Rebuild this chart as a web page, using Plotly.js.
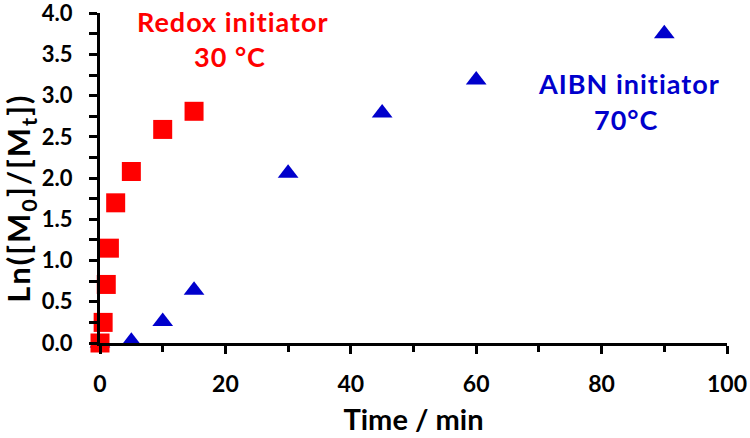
<!DOCTYPE html>
<html>
<head>
<meta charset="utf-8">
<script src="https://cdn.plot.ly/plotly-3.0.1.min.js"></script>
<style>html,body{margin:0;padding:0;background:#fff;}#chart{width:750px;height:438px;}</style>
</head>
<body>
<div id="chart"></div>
<script>
// Data
var redoxTime = [0, 0.5, 1, 1.5, 2.5, 5, 10, 15];
var redoxLn   = [0, 0.25, 0.71, 1.15, 1.70, 2.08, 2.59, 2.81];
var aibnTime  = [0, 5, 10, 15, 30, 45, 60, 90];
var aibnLn    = [0, 0.02, 0.26, 0.64, 2.06, 2.79, 3.19, 3.75];
var xTicks = [0, 20, 40, 60, 80, 100];
var yTicks = [0, 0.5, 1, 1.5, 2, 2.5, 3, 3.5, 4];
var labelRedox = ['Redox initiator', '30 °C'];
var labelAibn  = ['AIBN initiator', '70°C'];
var xTitle = 'Time / min';
var yTitle = 'Ln([M<sub>0</sub>]/[M<sub>t</sub>])';

var FONT = 'Lato, "Open Sans", sans-serif';
var RED = '#FF0000', BLUE = '#0000CC';

var traces = [
  {x: aibnTime, y: aibnLn, type: 'scatter', mode: 'markers', cliponaxis: false,
   marker: {symbol: 'triangle-up', size: 18, color: BLUE}},
  {x: redoxTime, y: redoxLn, type: 'scatter', mode: 'markers', cliponaxis: false,
   marker: {symbol: 'square', size: 19, color: RED}}
];

function spaced(t, px) { return '<span style="letter-spacing:' + px + 'px">' + t + '</span>'; }

function ann(text, x, y, color, size, angle) {
  return {text: text, x: x, y: y, xref: 'paper', yref: 'paper', showarrow: false,
          xanchor: 'center', yanchor: 'middle', textangle: angle || 0,
          font: {family: FONT, size: size, color: color, weight: 'bold'}};
}

var layout = {
  width: 750, height: 438,
  margin: {l: 100, r: 23, t: 13, b: 95, pad: 0},
  paper_bgcolor: '#fff', plot_bgcolor: '#fff',
  showlegend: false,
  font: {family: FONT, color: '#000'},
  xaxis: {
    range: [0, 100], tickvals: xTicks, ticktext: xTicks.map(String),
    showgrid: false, zeroline: false, showline: true, linecolor: '#000', linewidth: 3,
    ticks: 'outside', ticklen: 8, tickwidth: 3, tickcolor: '#000',
    minor: {dtick: 10, ticks: 'outside', ticklen: 6, tickwidth: 3, tickcolor: '#000', showgrid: false},
    ticklabelstandoff: 10,
    tickfont: {family: FONT, size: 23, color: '#000', weight: 'bold'},
    title: {text: xTitle, standoff: 15, font: {family: FONT, size: 29, color: '#000', weight: 'bold'}}
  },
  yaxis: {
    range: [0, 4.002], tickvals: yTicks, ticktext: yTicks.map(function(v){return v.toFixed(1);}),
    showgrid: false, zeroline: false, showline: true, linecolor: '#000', linewidth: 3,
    ticks: 'outside', ticklen: 8, tickwidth: 3, tickcolor: '#000',
    minor: {tickvals: [0.25, 0.75, 1.25, 1.75, 2.25, 2.75, 3.25, 3.75], ticks: 'outside', ticklen: 8, tickwidth: 3, tickcolor: '#000', showgrid: false},
    ticklabelstandoff: 12,
    ticklabeloverflow: 'allow',
    tickfont: {family: FONT, size: 22, color: '#000', weight: 'bold'}
  },
  annotations: [
    ann(spaced(labelRedox[0], 1), 0.212, 0.974, RED, 27),
    ann(spaced(labelRedox[1], 1), 0.207, 0.868, RED, 27),
    ann(spaced(labelAibn[0], 1), 0.844, 0.786, BLUE, 27),
    ann(spaced(labelAibn[1], 1), 0.839, 0.676, BLUE, 27),
    ann(spaced(yTitle, 2), -0.126, 0.44, '#000', 31, -90)
  ]
};

Plotly.newPlot('chart', traces, layout, {staticPlot: true, displayModeBar: false});
</script>
</body>
</html>
